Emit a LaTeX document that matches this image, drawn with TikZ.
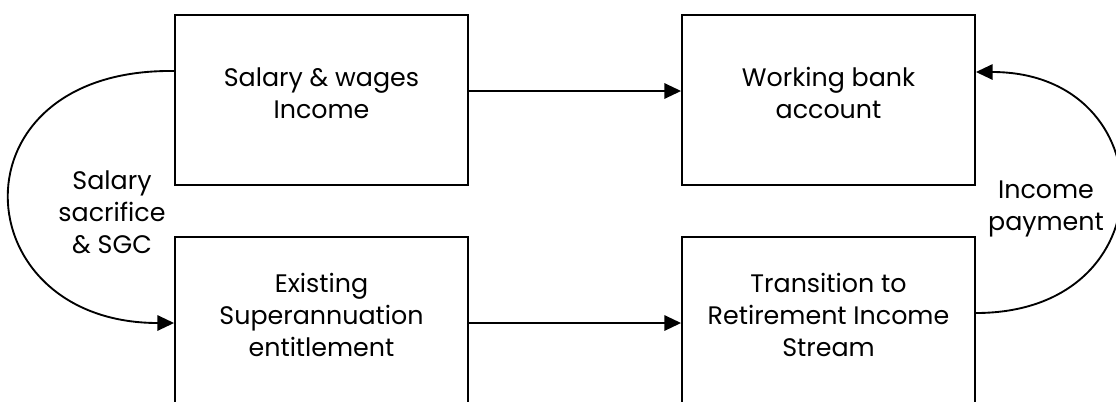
\documentclass[tikz,border=0pt]{standalone}
\usepackage{fontspec}
\setmainfont{Poppins}
\usetikzlibrary{arrows.meta}
\begin{document}
\begin{tikzpicture}[x=0.75pt,y=-0.75pt,
  box/.style={draw=black,line width=1.4pt,minimum width=219.75pt,minimum height=127.5pt,inner sep=0pt},
  txt/.style={align=center,font=\fontsize{19}{24}\selectfont},
  conn/.style={line width=1.4pt,-{Triangle[length=12.5pt,width=11.5pt]}}]
\clip (0,0) rectangle (1116,401);
\fill[white] (0,0) rectangle (1116,401);
\node[box] (sw) at (321.5,100) {};
\node[box] (wb) at (828.5,100) {};
\node[box] (es) at (321.5,322) {};
\node[box] (tr) at (828.5,322) {};
\node[txt] (swt) at (321.5,93) {Salary \& wages\\Income};
\node[txt] (wbt) at (828.5,93) {Working bank\\account};
\node[txt] (est) at (321.5,315) {Existing\\Superannuation\\entitlement};
\node[txt] (trt) at (828.5,315) {Transition to\\Retirement Income\\Stream};
\node[txt] (ss) at (112,212) {Salary\\sacrifice\\\& SGC};
\node[txt] (ip) at (1046,209) {Income\\payment};
\draw[conn] (sw.east |- 0,91) -- (wb.west |- 0,91);
\draw[conn] (es.east |- 0,323) -- (tr.west |- 0,323);
\draw[conn] (sw.west |- 0,71) .. controls (-52,68) and (-38,323) .. (es.west |- 0,323);
\draw[conn] (tr.east |- 0,313) .. controls (1170,313) and (1165,72) .. (wb.east |- 0,72);
\end{tikzpicture}
\end{document}
